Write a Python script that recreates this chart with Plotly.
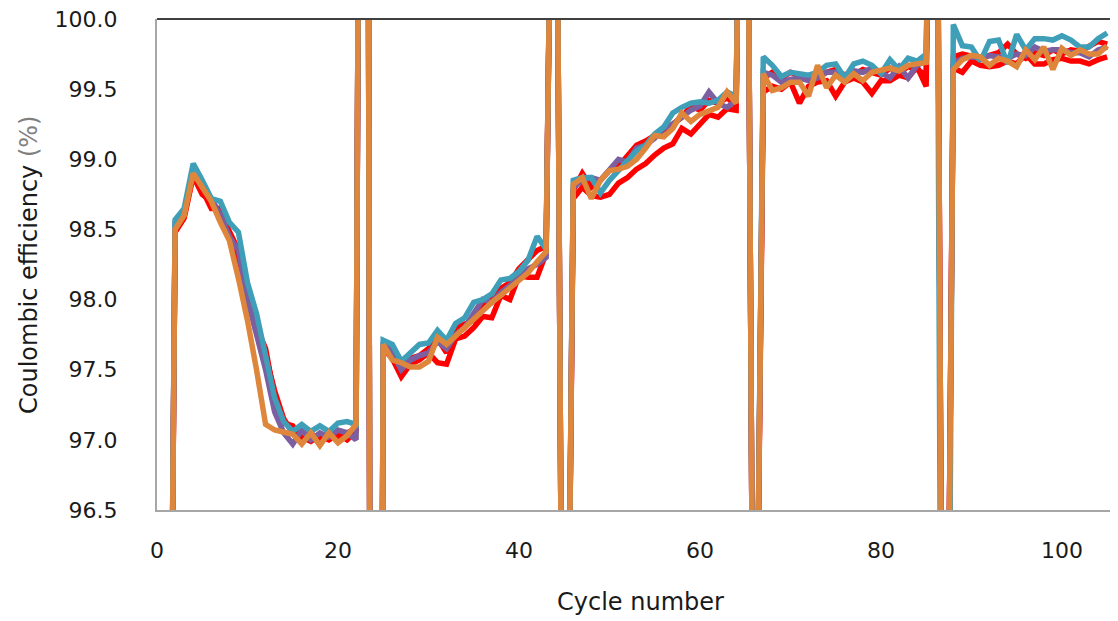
import plotly.graph_objects as go

cycles = list(range(1, 106))

# ---- per-segment readings (Coulombic efficiency, %) ----
# spikes at rate changes: cycle 1 low; 23/24, 44/45, 65/66, 86/87 high/low
red1_seg1 = [98.50, 98.60, 98.90, 98.78, 98.65, 98.65, 98.45, 98.30, 98.05, 97.80, 97.65,
             97.30, 97.12, 97.10, 97.00, 97.05, 96.98, 97.05, 96.99, 97.05, 97.08]
red1_seg2 = [97.68, 97.60, 97.50, 97.58, 97.60, 97.65, 97.72, 97.62, 97.80, 97.82,
             97.85, 97.95, 98.00, 98.08, 98.12, 98.22, 98.28, 98.35, 98.38]
red1_seg3 = [98.78, 98.90, 98.80, 98.85, 98.92, 98.95, 99.02, 99.10, 99.13, 99.17,
             99.20, 99.25, 99.30, 99.38, 99.35, 99.42, 99.40, 99.44, 99.38]
red1_seg4 = [99.58, 99.62, 99.58, 99.62, 99.60, 99.57, 99.60, 99.62, 99.64, 99.60,
             99.60, 99.64, 99.62, 99.60, 99.65, 99.62, 99.66, 99.64, 99.60]
red1_seg5 = [99.73, 99.75, 99.73, 99.72, 99.74, 99.76, 99.82, 99.75, 99.72, 99.76,
             99.74, 99.78, 99.75, 99.78, 99.77, 99.80, 99.84, 99.82]

red2_seg1 = [98.48, 98.58, 98.88, 98.75, 98.70, 98.62, 98.48, 98.35, 98.10, 97.85, 97.60,
             97.35, 97.15, 97.05, 97.02, 96.99, 97.03, 97.00, 97.04, 97.00, 97.06]
red2_seg2 = [97.65, 97.58, 97.45, 97.54, 97.57, 97.62, 97.55, 97.54, 97.72, 97.74,
             97.80, 97.88, 97.87, 98.03, 98.00, 98.17, 98.16, 98.16, 98.33]
red2_seg3 = [98.72, 98.80, 98.74, 98.73, 98.75, 98.83, 98.87, 98.93, 98.97, 99.03,
             99.08, 99.11, 99.22, 99.18, 99.25, 99.32, 99.30, 99.36, 99.35]
red2_seg4 = [99.48, 99.52, 99.50, 99.55, 99.40, 99.52, 99.55, 99.56, 99.45, 99.55,
             99.58, 99.55, 99.47, 99.56, 99.56, 99.60, 99.58, 99.66, 99.52]
red2_seg5 = [99.65, 99.62, 99.70, 99.67, 99.66, 99.67, 99.70, 99.68, 99.75, 99.68,
             99.68, 99.71, 99.72, 99.70, 99.70, 99.68, 99.71, 99.73]

purple_seg1 = [98.55, 98.62, 98.93, 98.80, 98.72, 98.60, 98.45, 98.35, 98.00, 97.75, 97.50,
               97.20, 97.05, 96.97, 97.07, 97.00, 97.05, 97.02, 97.07, 97.05, 97.00]
purple_seg2 = [97.70, 97.62, 97.50, 97.57, 97.60, 97.62, 97.70, 97.65, 97.75, 97.80,
               97.90, 98.00, 97.98, 98.05, 98.10, 98.15, 98.22, 98.25, 98.30]
purple_seg3 = [98.80, 98.85, 98.87, 98.85, 98.92, 99.00, 98.98, 99.08, 99.10, 99.15,
               99.22, 99.25, 99.30, 99.35, 99.38, 99.48, 99.40, 99.37, 99.42]
purple_seg4 = [99.62, 99.60, 99.55, 99.57, 99.58, 99.56, 99.58, 99.62, 99.62, 99.60,
               99.63, 99.62, 99.65, 99.62, 99.58, 99.66, 99.58, 99.67, 99.70]
purple_seg5 = [99.68, 99.72, 99.73, 99.72, 99.74, 99.73, 99.72, 99.75, 99.74, 99.80,
               99.77, 99.78, 99.78, 99.76, 99.76, 99.73, 99.78, 99.80]

teal_seg1 = [98.57, 98.65, 98.97, 98.85, 98.72, 98.70, 98.55, 98.48, 98.12, 97.90, 97.60,
             97.30, 97.13, 97.06, 97.11, 97.06, 97.10, 97.06, 97.12, 97.13, 97.11]
teal_seg2 = [97.71, 97.68, 97.56, 97.62, 97.68, 97.69, 97.78, 97.71, 97.83, 97.87,
             97.98, 98.00, 98.04, 98.14, 98.15, 98.20, 98.28, 98.45, 98.36]
teal_seg3 = [98.85, 98.87, 98.87, 98.76, 98.85, 98.92, 98.99, 99.06, 99.10, 99.18,
             99.23, 99.33, 99.37, 99.40, 99.41, 99.40, 99.42, 99.48, 99.45]
teal_seg4 = [99.73, 99.67, 99.59, 99.62, 99.61, 99.60, 99.62, 99.67, 99.68, 99.58,
             99.68, 99.70, 99.67, 99.61, 99.71, 99.64, 99.72, 99.70, 99.75]
teal_seg5 = [99.96, 99.81, 99.80, 99.70, 99.84, 99.85, 99.68, 99.89, 99.78, 99.86,
             99.86, 99.85, 99.88, 99.85, 99.80, 99.80, 99.86, 99.90]

orange_seg1 = [98.50, 98.60, 98.90, 98.80, 98.70, 98.55, 98.42, 98.15, 97.85, 97.50, 97.11,
               97.07, 97.05, 97.04, 96.97, 97.05, 96.96, 97.05, 96.98, 97.03, 97.11]
orange_seg2 = [97.68, 97.57, 97.55, 97.52, 97.52, 97.56, 97.73, 97.68, 97.74, 97.80,
               97.86, 97.93, 97.98, 98.03, 98.08, 98.13, 98.19, 98.27, 98.34]
orange_seg3 = [98.82, 98.87, 98.72, 98.85, 98.92, 98.93, 98.95, 99.00, 99.08, 99.17,
               99.16, 99.22, 99.33, 99.27, 99.32, 99.34, 99.37, 99.48, 99.40]
orange_seg4 = [99.61, 99.49, 99.51, 99.55, 99.55, 99.45, 99.67, 99.51, 99.60, 99.55,
               99.61, 99.56, 99.62, 99.64, 99.65, 99.63, 99.67, 99.68, 99.69]
orange_seg5 = [99.64, 99.71, 99.74, 99.73, 99.67, 99.72, 99.70, 99.66, 99.78, 99.71,
               99.80, 99.64, 99.79, 99.74, 99.78, 99.75, 99.75, 99.81]

first_cycle = [91.0]
spike1 = [111.0, 82.0]
spike2 = [103.4, 92.4]
spike3 = [104.3, 93.7]
spike4 = [104.0, 92.2]
spike4_teal = [104.0, 90.0]


def build(s1, s2, s3, s4, s5, sp4=spike4):
    return first_cycle + s1 + spike1 + s2 + spike2 + s3 + spike3 + s4 + sp4 + s5


red1 = build(red1_seg1, red1_seg2, red1_seg3, red1_seg4, red1_seg5)
red2 = build(red2_seg1, red2_seg2, red2_seg3, red2_seg4, red2_seg5)
purple = build(purple_seg1, purple_seg2, purple_seg3, purple_seg4, purple_seg5)
teal = build(teal_seg1, teal_seg2, teal_seg3, teal_seg4, teal_seg5, spike4_teal)
orange = build(orange_seg1, orange_seg2, orange_seg3, orange_seg4, orange_seg5)

series = [
    ("Cell 1", red2, "#FF0000"),
    ("Cell 2", red1, "#FF0000"),
    ("Cell 3", purple, "#7B5FA0"),
    ("Cell 4", teal, "#3F9FB8"),
    ("Cell 5", orange, "#DE873C"),
]

x_ticks = [0, 20, 40, 60, 80, 100]
y_ticks = [96.5, 97.0, 97.5, 98.0, 98.5, 99.0, 99.5, 100.0]

fig = go.Figure()
for name, ys, col in series:
    fig.add_trace(go.Scatter(x=cycles, y=ys, mode="lines", name=name,
                             line=dict(color=col, width=5.5)))

FONT = "DejaVu Sans"
# page has an 8px body margin; figure drawn from (8, 8)
W, H = 1110, 613
L, R, T, B = 149, 0, 11, 111
PW, PH = W - L - R, H - T - B

fig.update_layout(
    width=W, height=H,
    margin=dict(l=L, r=R, t=T, b=B),
    paper_bgcolor="white", plot_bgcolor="white",
    showlegend=False,
    font=dict(family=FONT, size=20, color="#262626"),
    xaxis=dict(range=[0, 106.2], tickvals=x_ticks, showgrid=False, zeroline=False,
               showline=True, linecolor="#A6A6A6", linewidth=2, ticks="",
               ticklabelstandoff=20, ticklabeloverflow="allow",
               tickfont=dict(size=22, color="#1a1a1a")),
    yaxis=dict(range=[96.5, 100.0], tickvals=y_ticks, tickformat=".1f", showgrid=False,
               zeroline=False, showline=True, linecolor="#A6A6A6", linewidth=2, ticks="",
               ticklabelstandoff=33, ticklabeloverflow="allow",
               tickfont=dict(size=22, color="#1a1a1a")),
    shapes=[dict(type="line", xref="paper", yref="paper", x0=0, x1=1, y0=1, y1=1,
                 line=dict(color="#404040", width=2))],
    annotations=[
        dict(text="Cycle number", xref="paper", yref="paper",
             x=(632 - L) / PW, y=-(594 - (H - B)) / PH,
             showarrow=False, font=dict(size=24, color="#1a1a1a"),
             xanchor="center", yanchor="middle"),
        dict(text="Coulombic efficiency <span style='color:#7f7f7f'>(%)</span>",
             xref="paper", yref="paper",
             x=-(L - 21) / PW, y=(H - B - 257) / PH, textangle=-90,
             showarrow=False, font=dict(size=24, color="#1a1a1a"),
             xanchor="center", yanchor="middle"),
    ],
)

fig.write_html("out.html")
